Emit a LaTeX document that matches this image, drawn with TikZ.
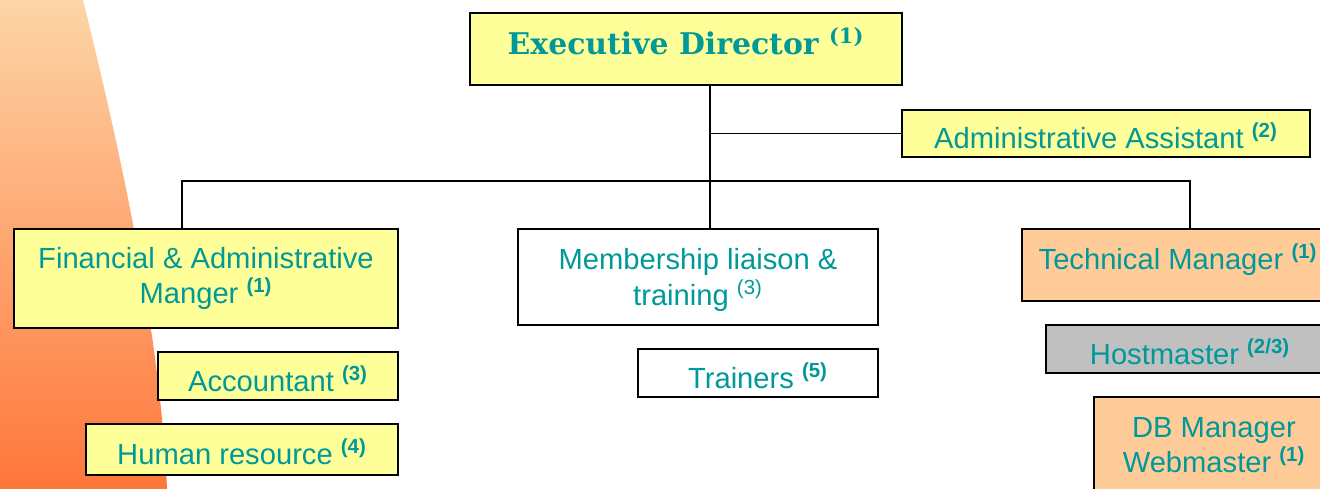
\documentclass[tikz,border=0pt]{standalone}
\usepackage{fontspec}
\setmainfont{Liberation Sans}
\newfontfamily\headfont{DejaVu Serif}
\usetikzlibrary{positioning}
\definecolor{staff}{HTML}{009999}
\definecolor{paleyellow}{HTML}{FFFF99}
\definecolor{paleorange}{HTML}{FFCC99}
\definecolor{palegray}{HTML}{C0C0C0}
\definecolor{wedgetop}{HTML}{FDD5A6}
\definecolor{wedgebot}{HTML}{FF763A}
\newcommand{\hc}[1]{\textsuperscript{\bfseries(#1)}}

\begin{document}
\begin{tikzpicture}
[x=0.02cm,y=0.02cm,
 every node/.style={draw=black,line width=1.1pt,inner sep=0pt,outer sep=0pt,align=center,
   text=staff,font=\fontsize{16.6}{20}\selectfont},
 boxsize/.style 2 args={minimum width=#1*0.02cm,minimum height=#2*0.02cm},
 low/.style={text height=17.6pt,text depth=0pt},
 yel/.style={fill=paleyellow},
 org/.style={fill=paleorange},
 gry/.style={fill=palegray},
 wht/.style={fill=white},
 line width=1.1pt]
\useasboundingbox (0,0) rectangle (1320,489);
\clip (0,0) rectangle (1320,489);

% background wedge on the left
\shade[top color=wedgetop,bottom color=wedgebot,draw=none]
  (0,489) -- (83,489) .. controls (120,339) and (160,159) .. (167,0) -- (0,0) -- cycle;

\node[yel,boxsize={432}{72},text height=6.8pt,text depth=0pt,
      font=\headfont\bfseries\fontsize{17}{20}\selectfont]
      (ed)   at (686,440)   {Executive Director \hc{1}};
\node[yel,low,boxsize={408}{47}]  (aa)   at (1106,355.5) {Administrative Assistant \hc{2}};
\node[yel,boxsize={384}{99}]      (fin)  at (206,210.5)  {Financial \& Administrative\\Manger \hc{1}};
\node[wht,boxsize={360}{96},text depth=0pt]
                                  (mem)  at (698,212)    {Membership liaison \&\\training \textsuperscript{(3)}};
\node[org,boxsize={312}{72},text height=5pt,text depth=0pt]
                                  (tech) at (1178,224)   {Technical Manager \hc{1}};
\node[yel,low,boxsize={240}{48}]  (acc)  at (278,113)    {Accountant \hc{3}};
\node[yel,low,boxsize={312}{51}]  (hr)   at (242,39.5)   {Human resource \hc{4}};
\node[wht,low,boxsize={240}{48}]  (trn)  at (758,116)    {Trainers \hc{5}};
\node[gry,low,boxsize={288}{48}]  (host) at (1190,140)   {Hostmaster \hc{2/3}};
\node[org,boxsize={240}{96}]      (db)   at (1214,44)    {DB Manager\\Webmaster \hc{1}};

% connectors
\coordinate (trunk) at (710,404);
\coordinate (busL)  at (182,308);
\coordinate (busR)  at (1190,308);
\draw (trunk) -- (trunk |- mem.north);
\draw (trunk |- aa.west) -- (aa.west);
\draw (busL |- fin.north) -- (busL) -- (busR) -- (busR |- tech.north);
\end{tikzpicture}
\end{document}
